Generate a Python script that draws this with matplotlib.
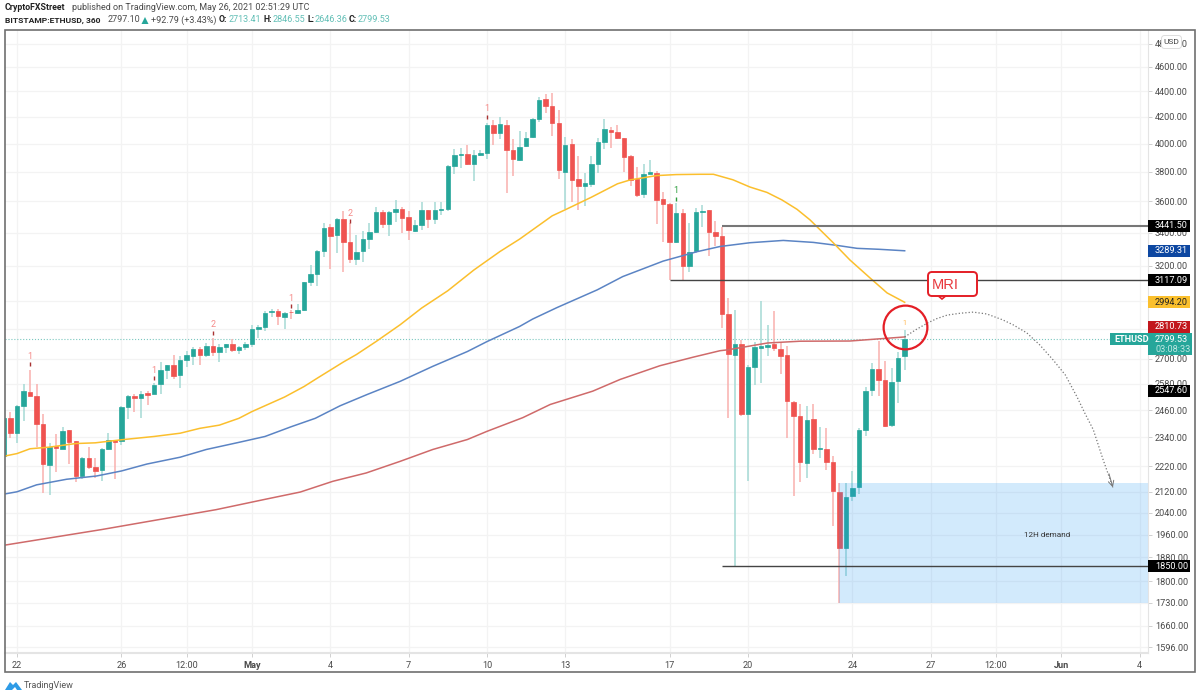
import numpy as np
import matplotlib.pyplot as plt
from matplotlib.patches import Rectangle, FancyBboxPatch, Polygon
from matplotlib.transforms import Affine2D
from matplotlib.ticker import NullLocator

plt.rcParams['font.family'] = ['Roboto', 'DejaVu Sans']

# 6h candles, bar 0 is Apr 22 00:00
barIdx = np.arange(-2, 137)
opens = [2264, 2423, 2361, 2476, 2542, 2525, 2396, 2224, 2303, 2293,
         2371, 2324, 2179, 2254, 2217, 2203, 2289, 2329, 2324, 2472,
         2522, 2513, 2537, 2534, 2579, 2648, 2669, 2620, 2697, 2716,
         2752, 2721, 2767, 2733, 2761, 2775, 2743, 2761, 2775, 2853,
         2864, 2940, 2949, 2917, 2943, 2938, 2952, 3105, 3155, 3287,
         3434, 3384, 3487, 3341, 3240, 3285, 3358, 3402, 3532, 3455,
         3532, 3553, 3500, 3413, 3445, 3542, 3487, 3542, 3549, 3843,
         3921, 3926, 3855, 3917, 3929, 4138, 4080, 4140, 3952, 3881,
         3983, 4048, 4182, 4338, 4283, 4155, 3800, 3995, 3753, 3701,
         3717, 3855, 4010, 4103, 4088, 4040, 3907, 3751, 3649, 3784,
         3793, 3613, 3585, 3341, 3523, 3200, 3285, 3530, 3542, 3402,
         3380, 2931, 2718, 2774, 2444, 2661, 2757, 2762, 2775, 2752,
         2718, 2498, 2435, 2235, 2418, 2292, 2292, 2236, 2119, 1914,
         2103, 2139, 2371, 2550, 2652, 2597, 2394, 2594, 2713.41]
highs = [2430, 2449, 2484, 2579, 2648, 2579, 2443, 2317, 2354, 2383,
         2372, 2326, 2258, 2300, 2254, 2295, 2358, 2331, 2479, 2530,
         2534, 2545, 2545, 2583, 2684, 2672, 2721, 2713, 2738, 2762,
         2759, 2779, 2803, 2774, 2775, 2800, 2766, 2787, 2873, 2873,
         2945, 2958, 2959, 2943, 2954, 2984, 3110, 3204, 3295, 3459,
         3453, 3491, 3534, 3459, 3386, 3411, 3459, 3562, 3545, 3534,
         3609, 3562, 3540, 3481, 3598, 3545, 3594, 3594, 3846, 3960,
         3967, 3990, 3955, 3950, 4153, 4178, 4202, 4178, 4033, 4090,
         4088, 4190, 4358, 4379, 4384, 4249, 4045, 4033, 3910, 3793,
         3910, 4040, 4183, 4123, 4140, 4041, 3919, 3831, 3855, 3883,
         3802, 3665, 3587, 3587, 3549, 3459, 3555, 3574, 3545, 3470,
         3438, 3017, 2954, 2795, 2672, 2787, 3002, 2871, 2947, 2787,
         2766, 2499, 2489, 2479, 2489, 2386, 2381, 2264, 2154, 2154,
         2201, 2379, 2565, 2680, 2790, 2688, 2654, 2736, 2846.55]
lows = [2255, 2337, 2317, 2412, 2522, 2300, 2115, 2106, 2195, 2289,
        2230, 2156, 2168, 2208, 2172, 2163, 2285, 2169, 2307, 2420,
        2453, 2426, 2481, 2531, 2534, 2603, 2605, 2563, 2659, 2669,
        2672, 2710, 2716, 2684, 2729, 2734, 2726, 2743, 2759, 2804,
        2844, 2913, 2871, 2851, 2904, 2929, 2949, 3082, 3082, 3255,
        3181, 3279, 3166, 3218, 3204, 3224, 3301, 3400, 3432, 3381,
        3466, 3396, 3356, 3402, 3417, 3432, 3453, 3513, 3534, 3784,
        3824, 3848, 3733, 3910, 3891, 3988, 4033, 3654, 3773, 3876,
        3974, 4038, 4158, 4228, 4053, 3750, 3551, 3598, 3545, 3572,
        3694, 3789, 3962, 3971, 4033, 3800, 3705, 3631, 3620, 3784,
        3455, 3341, 3120, 3335, 3120, 3166, 3275, 3438, 3261, 3319,
        2855, 2426, 1850, 2435, 2160, 2573, 2583, 2716, 2738, 2626,
        2336, 2103, 2158, 2171, 2271, 2254, 2203, 1991, 1730, 1818,
        2083, 2110, 2344, 2525, 2525, 2383, 2386, 2492, 2646.36]
closes = [2423, 2358, 2479, 2545, 2525, 2399, 2230, 2299, 2296, 2369,
          2319, 2181, 2254, 2217, 2201, 2289, 2328, 2322, 2473, 2525,
          2513, 2534, 2530, 2577, 2648, 2669, 2616, 2697, 2720, 2751,
          2720, 2764, 2733, 2759, 2774, 2743, 2761, 2775, 2853, 2864,
          2936, 2949, 2919, 2938, 2940, 2952, 3107, 3155, 3287, 3432,
          3380, 3487, 3343, 3238, 3283, 3358, 3404, 3530, 3455, 3530,
          3551, 3494, 3419, 3447, 3542, 3485, 3545, 3551, 3841, 3917,
          3926, 3855, 3921, 3933, 4138, 4080, 4143, 3952, 3886, 3976,
          4043, 4185, 4332, 4283, 4155, 3810, 3993, 3746, 3701, 3721,
          3855, 4012, 4108, 4083, 4043, 3902, 3744, 3645, 3784, 3796,
          3609, 3583, 3341, 3523, 3198, 3281, 3530, 3540, 3402, 3380,
          2933, 2723, 2774, 2444, 2661, 2762, 2766, 2772, 2754, 2716,
          2499, 2434, 2238, 2415, 2292, 2297, 2238, 2121, 1914, 2100,
          2132, 2372, 2548, 2652, 2600, 2390, 2588, 2707, 2799.53]

yellowX = [-2, 0, 2, 5, 9, 12, 16, 21, 25, 28, 31, 34, 36, 41, 44, 46, 50, 52, 55, 58.7, 62,
           66, 70, 74, 77, 82, 84, 88, 92, 94, 98, 101, 104.6, 106.7, 109.7, 112.3, 114.9,
           117.2, 119.5, 121.5, 125, 127.6, 130.7, 133.3, 136]
yellowMA = [2261, 2272, 2292, 2299, 2314, 2317, 2330, 2344, 2358, 2379, 2393, 2423, 2453, 2519,
            2568, 2607, 2685, 2722, 2787, 2874, 2963, 3058, 3176, 3285, 3360, 3506, 3545, 3627,
            3717, 3744, 3773, 3780, 3782, 3782, 3744, 3695, 3659, 3609, 3548, 3480, 3340, 3235,
            3130, 3046, 2994.2]
blueX = [-2, 0, 3, 7.6, 12.2, 16, 19.9, 25, 29, 34, 38, 42, 45.7, 49.5, 53.6, 58.7, 63.7, 69,
         72, 77, 79, 82.7, 88.9, 92.8, 99, 104.2, 107.7, 112.3, 117.4, 122, 125.6, 128.7,
         132.2, 136]
blueMA = [2110, 2119, 2146, 2168, 2181, 2201, 2229, 2257, 2289, 2319, 2344, 2386, 2423, 2479,
          2530, 2592, 2664, 2737, 2787, 2865, 2904, 2965, 3063, 3138, 3228, 3284, 3315, 3338,
          3352, 3340, 3322, 3304, 3298, 3289.31]
redX = [-2, 13, 30.5, 38, 43.4, 48.4, 53.5, 58.7, 63.7, 69, 72, 77.5, 81.7, 88.2, 92.4, 98.5,
        103.6, 107.7, 109, 115, 120, 127.6, 136]
redMA = [1922, 1978, 2051, 2090, 2118, 2160, 2193, 2240, 2289, 2331, 2366, 2426, 2485, 2546,
         2601, 2667, 2709, 2741, 2746, 2780, 2789, 2790, 2810.73]

# projected path drawn by hand on the chart
pathX = [136, 137.8, 139.6, 140.9, 142.5, 144.5, 146.5, 148.6, 151, 152.6, 154.7, 156.7, 158.7,
         160.6, 162.4, 163.6, 164.9, 166.4, 167.9]
pathY = [2810.73, 2850, 2885, 2906, 2925, 2935, 2941, 2931, 2900, 2874, 2832, 2770, 2697,
         2623, 2520, 2446, 2373, 2247, 2136]

# sequence counters above the candles
countX = [2, 21, 30, 42, 51, 72, 101]
countY = [2713, 2644, 2873, 3017, 3523, 4261, 3671]
countDash = [2677, 2606, 2830, 2975, 3470, 4200, 3615]
countText = ['1', '1', '2', '1', '2', '1', '1']

priceTicks = [4800, 4600, 4400, 4200, 4000, 3800, 3600, 3400, 3200, 3000, 2850, 2700, 2580,
              2460, 2340, 2220, 2120, 2040, 1960, 1880, 1800, 1730, 1660, 1596]
hiddenTicks = [3000, 2850]  # sit behind the yellow and red boxes
timeTicks = [0, 16, 26, 36, 48, 60, 72, 84, 100, 112, 128, 140, 150, 160, 172]
timeLabels = ['22', '26', '12:00', 'May', '4', '7', '10', '13', '17', '20', '24', '27', '12:00', 'Jun', '4']

upColor = '#26A69A'
downColor = '#EF5350'

fig, chart = plt.subplots(figsize=(12, 6.99), dpi=100)
fig.subplots_adjust(left=5/1200, right=1148/1200, top=1-30/699, bottom=1-653/699)
pxT = Affine2D().scale(1/1200, -1/699).translate(0, 1) + fig.transFigure  # picture pixels, y down

chart.set_yscale('log')
chart.set_xlim(-1.8385, 173.28)
chart.set_ylim(1579, 4921)

for i, o, h, l, c in zip(barIdx, opens, highs, lows, closes):
    up = c >= o
    chart.vlines(i, l, h, color='#A5DAD5' if up else '#F9B0AE', lw=1.1, zorder=2)
    chart.bar(i, abs(c-o), bottom=min(o, c), width=0.68, color=upColor if up else downColor,
              edgecolor=upColor if up else downColor, lw=0.5, zorder=3)

chart.plot(blueX, blueMA, color='#5B84C4', lw=1.1, zorder=4)
chart.plot(redX, redMA, color='#CF6A6A', lw=1.1, zorder=4)
chart.plot(yellowX, yellowMA, color='#FBBF2D', lw=1.1, zorder=4)

chart.axhline(2799.53, color='#7CC8C0', lw=0.8, ls=':', zorder=1)  # last price

chart.axhspan(1730, 2154, xmin=(126+1.8385)/175.1185, color='#2196F3', alpha=0.2, lw=0, zorder=5)
chart.text(157.8, 1958, '12H demand', fontsize=5.9, color='#333333', ha='center', va='center', zorder=6)

chart.hlines(3441.5, 108, 173.28, color='#777777', lw=1.5, zorder=6)
chart.hlines(3117.09, 100, 173.28, color='#444444', lw=1, zorder=6)
chart.hlines(1850, 108, 173.28, color='#444444', lw=1, zorder=6)

for x, y, d, t in zip(countX, countY, countDash, countText):
    markColor = '#2E9E3E' if x == 101 else '#F58A88'
    chart.text(x, y, t, fontsize=6.5, color=markColor, ha='center', va='center', zorder=6)
    chart.plot([x], [d], marker='|', ms=3, mew=1, color='#A83232' if x != 101 else '#2E9E3E', zorder=6)
chart.text(136, 2879, '1', fontsize=5, color='#FFB74D', ha='center', va='center', zorder=6)

chart.plot(pathX, pathY, color='#777777', lw=0.9, ls=':', zorder=6)
chart.annotate('', xy=(pathX[-1], pathY[-1]), xytext=(167.3, 2190), zorder=6,
               arrowprops=dict(arrowstyle='->', color='#777777', lw=0.7, shrinkA=0, shrinkB=0))
chart.plot([136], [2860], marker='o', ms=31.5, mfc='none', mec='#E41E26', mew=1.6, zorder=7)

chart.yaxis.tick_right()
chart.set_yticks(priceTicks)
chart.set_yticklabels(['' if p in hiddenTicks else '%.2f' % p for p in priceTicks])
chart.yaxis.set_minor_locator(NullLocator())
chart.set_xticks(timeTicks)
chart.set_xticklabels(timeLabels)
chart.tick_params(axis='both', length=3, width=0.7, color='#D0D0D0', labelsize=6.6, labelcolor='#4A4A4A', pad=3)
chart.tick_params(axis='y', pad=2)
chart.grid(True, color='#F3F3F3', lw=0.9)
chart.set_axisbelow(True)
for tickLabel in chart.get_xticklabels():
    if tickLabel.get_text() in ('May', 'Jun'):
        tickLabel.set_fontweight('bold')
for side in ['top', 'left']:
    chart.spines[side].set_visible(False)
chart.spines['right'].set_color('#E4E4E4')
chart.spines['bottom'].set_color('#E4E4E4')
chart.spines['bottom'].set_linewidth(1.5)

# boxes on the price scale
chart.figure.canvas.draw()
boxPrices = [3441.5, 3289.31, 3117.09, 2994.2, 2810.73, 2547.6, 1850]
boxColors = ['#000000', '#0D47A1', '#000000', '#FBC02D', '#C2171D', '#000000', '#000000']
boxTextColors = ['white', 'white', 'white', '#222222', 'white', 'white', 'white']
boxShift = [0, 0, 0, 0, -10, 0, 0]
for p, bc, tc, s in zip(boxPrices, boxColors, boxTextColors, boxShift):
    yPx = 699 - chart.transData.transform((0, p))[1] + s
    fig.add_artist(Rectangle((1148, yPx-6), 41.5, 12, transform=pxT, color=bc, lw=0, zorder=5))
    fig.text(1155, yPx, '%.2f' % p, transform=pxT, color=tc, fontsize=6.6, va='center', zorder=6)

yPx = 699 - chart.transData.transform((0, 2799.53))[1]
fig.add_artist(Rectangle((1110, yPx-6), 82, 12, transform=pxT, color=upColor, lw=0, zorder=5))
fig.add_artist(Rectangle((1148, yPx+5), 44, 11, transform=pxT, color=upColor, lw=0, zorder=5))
fig.text(1114, yPx, 'ETHUSD', transform=pxT, color='white', fontsize=6.6, fontweight='bold', va='center', zorder=6)
fig.text(1155, yPx, '2799.53', transform=pxT, color='white', fontsize=6.6, va='center', zorder=6)
fig.text(1155, yPx+10.5, '03:08:33', transform=pxT, color='#BFE6E2', fontsize=6.6, va='center', zorder=6)

fig.add_artist(FancyBboxPatch((1163, 37), 17, 10, boxstyle='round,pad=1.5,rounding_size=3', transform=pxT,
                              fc='white', ec='#DDDDDD', lw=0.7, zorder=5))
fig.text(1171.5, 42, 'USD', transform=pxT, color='#444444', fontsize=6, ha='center', va='center', zorder=6)

# MRI callout
fig.add_artist(Polygon([[936, 294], [942, 299], [948, 294]], transform=pxT, fc='white', ec='#E41E26', lw=1.2, zorder=5))
fig.add_artist(FancyBboxPatch((931, 275), 43, 18, boxstyle='round,pad=3,rounding_size=4', transform=pxT,
                              fc='white', ec='#E41E26', lw=1.4, zorder=5))
fig.add_artist(Rectangle((937, 292), 10, 3, transform=pxT, fc='white', lw=0, zorder=5))
fig.text(931.5, 285, 'MRI', transform=pxT, color='#E8383D', fontsize=10.5, family='Liberation Sans', va='center', zorder=6)

# frame, header, footer
fig.add_artist(Rectangle((5, 30), 1190, 642, transform=pxT, fill=False, ec='#707070', lw=1.2, zorder=7))

tealSoft = '#62BFB6'
header = [(5, 8, 'CryptoFXStreet', '#222222', 'bold', 6.3),
          (72, 8, 'published on TradingView.com, May 26, 2021 02:51:29 UTC', '#4A4A4A', 'normal', 6.5),
          (5, 20, 'BITSTAMP:ETHUSD, 360', '#222222', 'bold', 6.1),
          (108, 20, '2797.10', '#4A4A4A', 'normal', 6.5),
          (151, 20, '+92.79 (+3.43%)', '#4A4A4A', 'normal', 6.5),
          (219, 20, 'O:', '#222222', 'bold', 6.3), (229, 20, '2713.41', tealSoft, 'normal', 6.5),
          (263, 20, 'H:', '#222222', 'bold', 6.3), (273, 20, '2846.55', tealSoft, 'normal', 6.5),
          (307, 20, 'L:', '#222222', 'bold', 6.3), (315, 20, '2646.36', tealSoft, 'normal', 6.5),
          (349, 20, 'C:', '#222222', 'bold', 6.3), (358, 20, '2799.53', tealSoft, 'normal', 6.5)]
for x, y, t, col, wt, fs in header:
    fig.text(x, y, t, transform=pxT, color=col, fontweight=wt, fontsize=fs, va='center')
fig.add_artist(Polygon([[141.5, 24], [145, 17], [148.5, 24]], transform=pxT, color=upColor, lw=0))

fig.add_artist(Polygon([[5, 690], [10, 682], [13, 685], [16, 682], [22, 690], [17, 690], [15, 687], [12, 690]],
                       transform=pxT, color='#2E9BE6', lw=0))
fig.text(24, 686, 'TradingView', transform=pxT, color='#555555', fontsize=6.5, va='center')

plt.savefig('out.png', dpi=100)
